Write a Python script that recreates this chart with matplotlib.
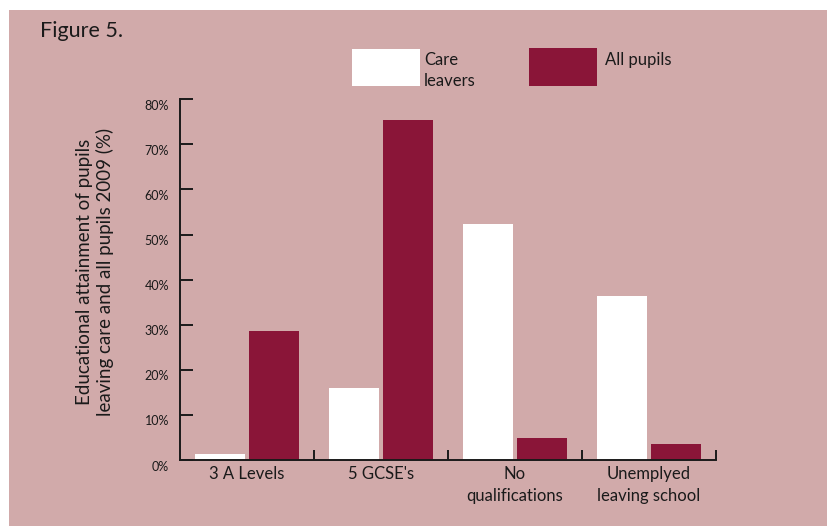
import numpy as np
import matplotlib
matplotlib.use("Agg")
import matplotlib.pyplot as plt
import matplotlib.transforms as mtrans
from matplotlib.patches import Rectangle

# educational attainment 2009 (%)
categories = ["3 A Levels", "5 GCSE's", "No\nqualifications", "Unemplyed\nleaving school"]
care_leavers = [1.3, 16.0, 52.3, 36.4]
all_pupils = [28.7, 75.3, 4.9, 3.5]
series_names = ["Care\nleavers", "All pupils"]
yticks = [0, 10, 20, 30, 40, 50, 60, 70, 80]

bg = "#d1aaaa"
maroon = "#8a1538"
ink = "#1a1a1a"

plt.rcParams["font.family"] = ["Lato", "DejaVu Sans"]

fig = plt.figure(figsize=(8.27, 5.26), dpi=100)
fig.patch.set_facecolor("white")
W, H = 827, 526

# pink panel behind everything
fig.patches.append(Rectangle((9 / W, 0), 1 - 9 / W, 1 - 10 / H,
                             transform=fig.transFigure, facecolor=bg,
                             edgecolor="none", zorder=-1))

ax = fig.add_axes([180 / W, 1 - 460 / H, 536 / W, (460 - 99.3) / H])
ax.set_facecolor("none")

x = np.arange(len(categories))
ax.bar(x - 0.2, care_leavers, width=0.37, color="white", zorder=2)
ax.bar(x + 0.2, all_pupils, width=0.37, color=maroon, zorder=2)

ax.set_xlim(-0.5, len(categories) - 0.5)
ax.set_ylim(0, 80)

for s in ["top", "right"]:
    ax.spines[s].set_visible(False)
for s in ["left", "bottom"]:
    ax.spines[s].set_linewidth(1.4)
    ax.spines[s].set_color(ink)

ax.set_yticks(yticks)
ax.set_yticklabels([f"{v}%" for v in yticks], fontsize=9, color=ink)
ax.tick_params(axis="y", direction="in", length=9, width=1.4, pad=8, color=ink)
# percent labels sit a little below their ticks
offset = mtrans.ScaledTranslation(0, -4 / 72, fig.dpi_scale_trans)
for lbl in ax.get_yticklabels():
    lbl.set_transform(lbl.get_transform() + offset)

# tick marks on category boundaries, labels under category centres
ax.set_xticks(x[:-1] + 0.5)
ax.set_xticks([len(categories) - 0.5], minor=True)
ax.set_xticklabels([])
ax.tick_params(axis="x", which="both", direction="in", length=7, width=1.4,
               color=ink)
for xi, name in zip(x, categories):
    ax.text(xi, -1.3, name, ha="center", va="top", fontsize=12,
            linespacing=1.45, color=ink)

fig.text(95 / W, 1 - 272 / H,
         "Educational attainment of pupils\nleaving care and all pupils 2009 (%)",
         rotation=90, ha="center", va="center", multialignment="center",
         fontsize=13.5, color=ink, linespacing=1.15)

fig.text(40 / W, 1 - 31 / H, "Figure 5.", ha="left", va="center",
         fontsize=15.5, color=ink)

# legend boxes
legend_boxes = [(352, 49, 68, 37, "white"), (529, 48, 68, 38, maroon)]
legend_text = [(424, 52), (605, 52)]
for (lx, ly, lw, lh, col), (tx, ty), name in zip(legend_boxes, legend_text, series_names):
    fig.patches.append(Rectangle((lx / W, 1 - (ly + lh) / H), lw / W, lh / H,
                                 transform=fig.transFigure, facecolor=col,
                                 edgecolor="none"))
    fig.text(tx / W, 1 - ty / H, name, ha="left", va="top", fontsize=12,
             linespacing=1.4, color=ink)

fig.savefig("out.png", dpi=100, facecolor=fig.get_facecolor())
